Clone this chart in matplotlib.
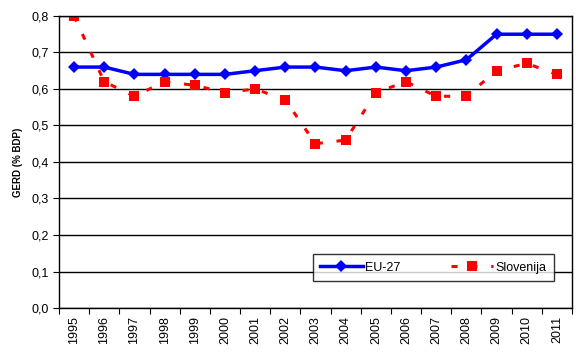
import numpy as np
import matplotlib
matplotlib.use("Agg")
import matplotlib.pyplot as plt
from matplotlib.ticker import FuncFormatter

plt.rcParams['font.family'] = ['Liberation Sans', 'DejaVu Sans']

years = [str(y) for y in range(1995, 2012)]
eu27 = [0.66, 0.66, 0.64, 0.64, 0.64, 0.64, 0.65, 0.66, 0.66, 0.65,
        0.66, 0.65, 0.66, 0.68, 0.75, 0.75, 0.75]
slovenija = [0.80, 0.62, 0.58, 0.62, 0.61, 0.59, 0.60, 0.57, 0.45, 0.46,
             0.59, 0.62, 0.58, 0.58, 0.65, 0.67, 0.64]

fig = plt.figure(figsize=(5.76, 3.63), dpi=100)
ax = fig.add_axes([0.1024, 0.1515, 0.8906, 0.8045])

xx = np.arange(len(years))
ax.plot(xx, eu27, color='#0000ff', lw=2.5, marker='D', ms=6.5, mew=0,
        label='EU-27')
ax.plot(xx, slovenija, color='#ff0000', lw=2.2, ls=(0, (2, 4.5)), marker='s',
        ms=7.5, mew=0, label='Slovenija')

ax.set_xlim(-0.5, len(years) - 0.5)
ax.set_ylim(0, 0.8)
ax.set_yticks(np.arange(0, 0.81, 0.1))
ax.yaxis.set_major_formatter(FuncFormatter(lambda v, p: ('%.1f' % v).replace('.', ',')))
ax.set_xticks(np.arange(-0.5, len(years), 1.0))
ax.set_xticklabels([])
ax.set_xticks(xx, minor=True)
ax.set_xticklabels(years, minor=True, rotation=90, fontsize=9)
ax.tick_params(axis='x', which='minor', length=0, pad=6)
ax.tick_params(axis='x', which='major', direction='out', length=4, color='black')
ax.tick_params(axis='y', direction='out', length=4, labelsize=9)
ax.grid(axis='y', color='black', lw=1)
ax.set_axisbelow(True)
for s in ax.spines.values():
    s.set_color('black')
    s.set_linewidth(1)

ax.set_ylabel('GERD (% BDP)', fontsize=7, fontweight='bold', labelpad=6)

leg = ax.legend(loc='lower right', bbox_to_anchor=(0.965, 0.092), ncol=2,
                fontsize=9, frameon=True, fancybox=False, edgecolor='black',
                handlelength=3.4, columnspacing=4.0, borderpad=0.6,
                handletextpad=0.2, borderaxespad=0)
leg.get_frame().set_linewidth(1)

fig.savefig('out.png', dpi=100)
